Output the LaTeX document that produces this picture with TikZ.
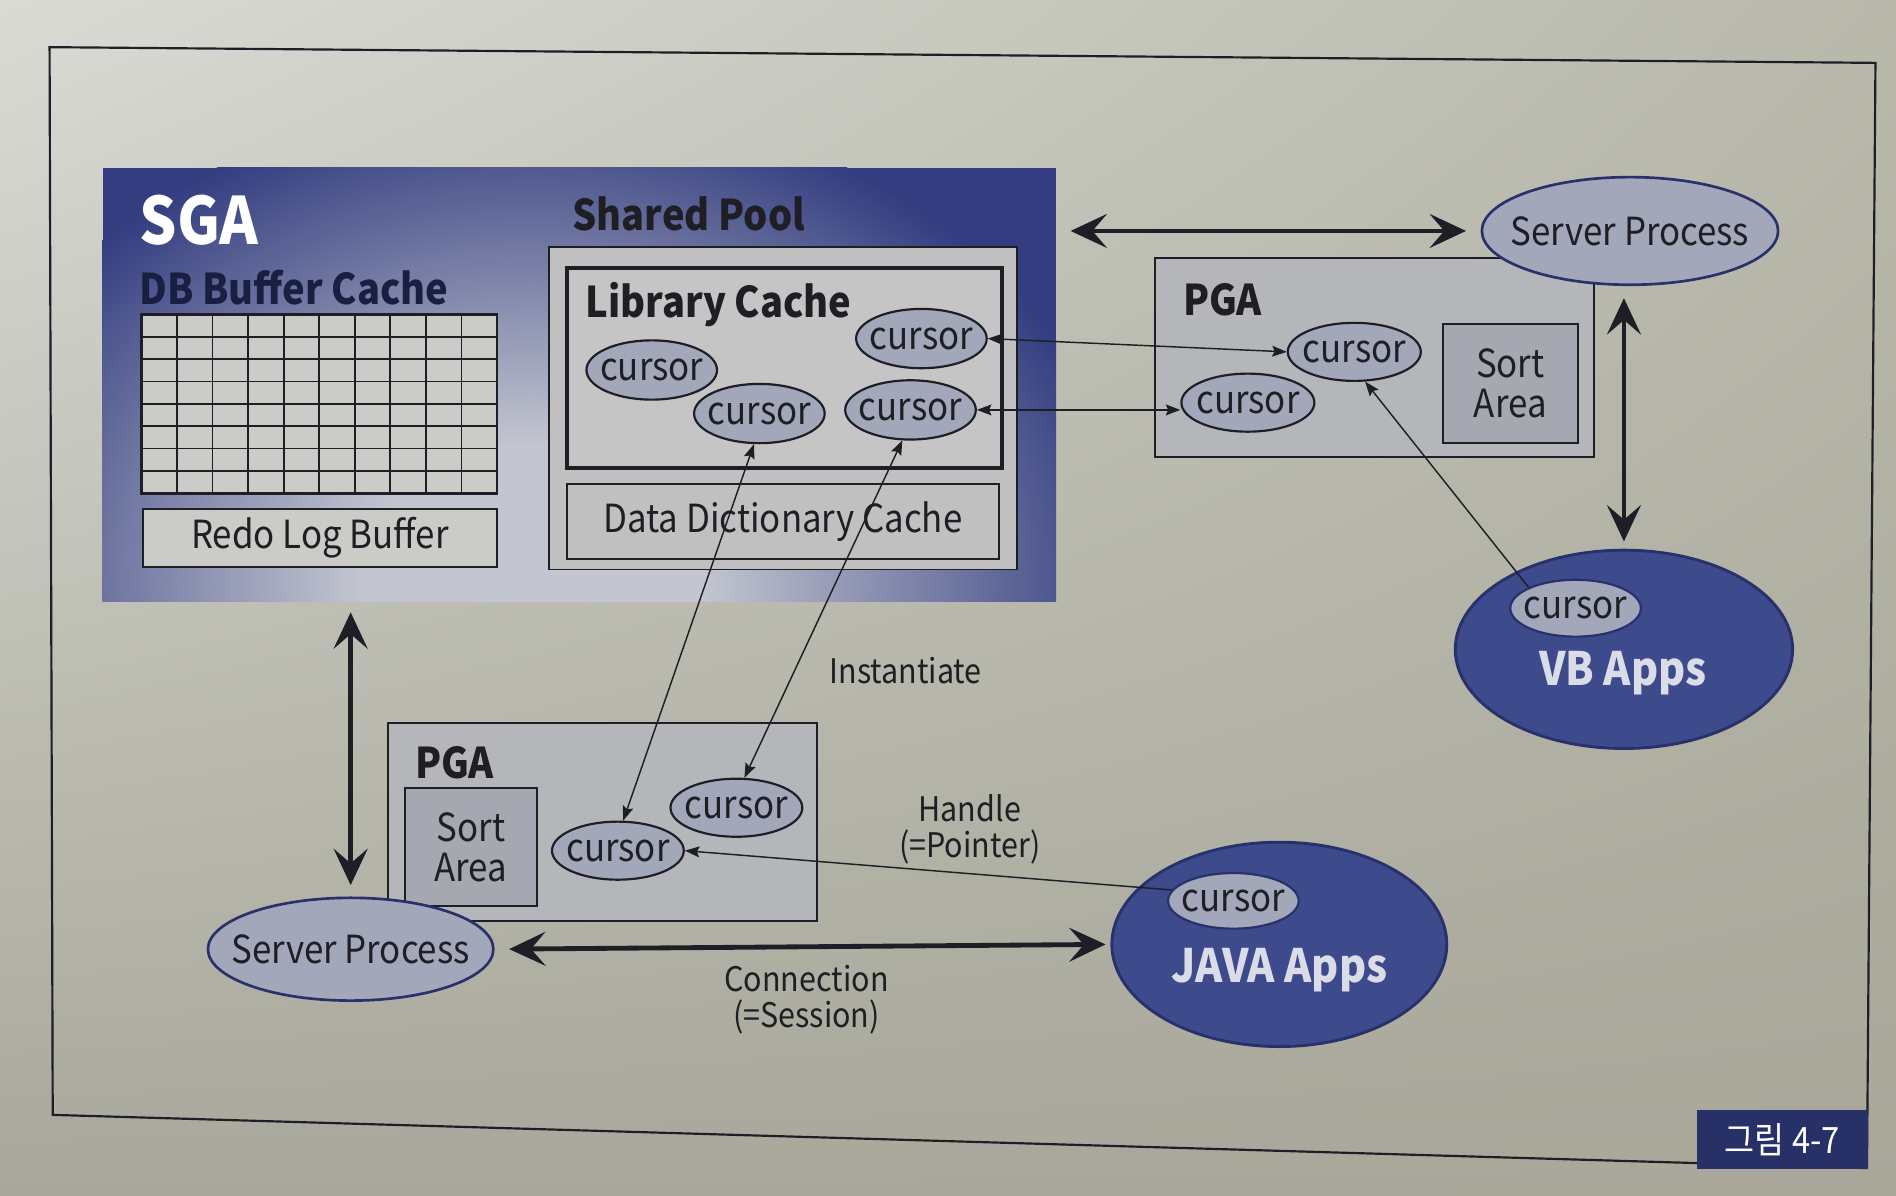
\documentclass[tikz,border=0pt]{standalone}
\usepackage{fontspec}
\setmainfont{Noto Sans CJK KR}[FakeStretch=0.9]
\usetikzlibrary{shapes.geometric,arrows.meta,fit,shadings}
\definecolor{bgUL}{HTML}{D9DCD5}
\definecolor{bgUR}{HTML}{B8B8AB}
\definecolor{bgLL}{HTML}{A9A79B}
\definecolor{bgLR}{HTML}{A8A79A}
\definecolor{linec}{HTML}{1E1F26}
\definecolor{txtc}{HTML}{1E1E24}
\definecolor{sgadark}{HTML}{333D80}
\definecolor{sgalight}{HTML}{C3C6D0}
\definecolor{poolfill}{HTML}{BFC0BF}
\definecolor{libfill}{HTML}{C4C5C4}
\definecolor{gridfill}{HTML}{CBCBC7}
\definecolor{pgafill}{HTML}{B4B6BA}
\definecolor{sortfill}{HTML}{A5A8B1}
\definecolor{curfill}{HTML}{A3A7BA}
\definecolor{appfill}{HTML}{3D4A8C}
\definecolor{appline}{HTML}{28316C}
\definecolor{apptext}{HTML}{DADDE8}
\definecolor{lblblue}{HTML}{283068}
\newcommand{\myfs}[1]{\fontsize{#1pt}{#1pt}\selectfont}
\newcommand{\zw}[1]{\makebox[0pt]{#1}}
\pgfdeclareradialshading{sgash}{\pgfpointorigin}{color(0bp)=(sgalight); color(7bp)=(sgalight); color(25bp)=(sgadark); color(50bp)=(sgadark)}
\begin{document}
\begin{tikzpicture}[x=0.5pt,y=-0.5pt,
  box/.style={rectangle, draw=linec, line width=0.8pt, inner sep=0pt},
  cur/.style={ellipse, draw=linec, line width=0.9pt, fill=curfill, inner sep=0pt,
    minimum width=54pt, minimum height=24.5pt, text=txtc, font=\myfs{16}},
  proc/.style={ellipse, draw=appline, line width=1.1pt, fill=curfill, inner sep=0pt,
    text=txtc, font=\myfs{16}},
  app/.style={ellipse, draw=appline, line width=1.2pt, fill=appfill, inner sep=0pt},
  lbl/.style={inner sep=0pt, text=txtc, font=\myfs{16}},
  blbl/.style={inner sep=0pt, text=txtc, font=\myfs{17.5}\bfseries, anchor=west},
  elbl/.style={inner sep=0pt, text=txtc, font=\myfs{14}, align=center},
  bigarrow/.style={draw=linec, line width=2pt,
    {Stealth[length=15pt,width=14pt,inset=6pt]}-{Stealth[length=15pt,width=14pt,inset=6pt]}},
  thin/.style={draw=linec, line width=0.6pt}
]
\useasboundingbox (0,0) rectangle (1568,989);
% background
\shade[upper left=bgUL, upper right=bgUR, lower left=bgLL, lower right=bgLR] (0,0) rectangle (1568,989);
% outer frame
\draw[linec, line width=0.9pt] (41,39) -- (1551,52) -- (1544,966) -- (43.6,922) -- cycle;

% ---------- SGA ----------
\node[rectangle, inner sep=0pt, fill=sgadark, fit={(85,139) (873,497)}] (sga) {};
\begin{scope}
  \clip (sga.north west) rectangle (sga.south east);
  \shade[shading=sgash] (440,480) ellipse [x radius=250pt, y radius=200pt];
\end{scope}
\node[inner sep=0pt, anchor=west, text=white, font=\myfs{27}\bfseries] (sgat) at (115,182) {SGA};
\node[blbl, text=sgadark!50!black] (dbbct) at (115,238) {DB Buffer Cache};

% DB buffer grid
\node[box, fill=gridfill, line width=1pt, fit={(117,260) (411,408)}] (dbgrid) {};
\foreach \i in {1,...,9} \draw[linec, line width=0.7pt] ({117+\i*29.4},260) -- ({117+\i*29.4},408);
\foreach \j in {1,...,7} \draw[linec, line width=0.7pt] (117,{260+\j*18.5}) -- (411,{260+\j*18.5});

\node[box, fill=gridfill, fit={(118,421) (411,469)}] (redo) {};
\node[lbl] at (redo.center) {Redo Log Buffer};

% Shared pool
\node[blbl] (spt) at (473,177) {Shared Pool};
\node[box, fill=poolfill, fit={(454,204) (841,471)}] (pool) {};
\node[box, fill=libfill, line width=1.7pt, fit={(469,222) (829,387)}] (lib) {};
\node[blbl] (libt) at (484,252) {Library Cache};
\node[box, fill=poolfill, fit={(469,400) (826,462)}] (dd) {};
\node[lbl] at (dd.center) {Data Dictionary Cache};

\node[cur] (lc1) at (539,306) {\zw{cursor}};
\node[cur] (lc2) at (628,342) {\zw{cursor}};
\node[cur] (lc3) at (762,280) {\zw{cursor}};
\node[cur] (lc4) at (753,339) {\zw{cursor}};

% ---------- top right ----------
\node[box, fill=pgafill, fit={(955,213) (1318,378)}] (pga1) {};
\node[blbl] (pga1t) at (978,248) {PGA};
\node[box, fill=sortfill, fit={(1193,268) (1305,366)}] (sort1) {};
\node[lbl, align=center] at (sort1.center) {Sort\\[0.5pt]Area};
\node[cur, minimum width=55pt, minimum height=24pt] (pc1) at (1120,291) {\zw{cursor}};
\node[cur, minimum width=55pt, minimum height=24pt] (pc2) at (1032,333) {\zw{cursor}};
\node[proc, minimum width=122.5pt, minimum height=44.5pt] (sp1) at (1348,191) {\zw{Server Process}};

\node[app, minimum width=139.5pt, minimum height=82pt] (vb) at (1343,537) {};
\node[cur, draw=appline, minimum width=54pt, minimum height=23.5pt] (vbc) at (1303,503) {\zw{cursor}};
\node[inner sep=0pt, text=apptext, font=\myfs{19}\bfseries] (vbt) at (1342,557) {VB Apps};

% ---------- bottom ----------
\node[box, fill=pgafill, fit={(321,598) (676,762)}] (pga2) {};
\node[blbl] (pga2t) at (343,631) {PGA};
\node[box, fill=sortfill, fit={(335,652) (444,749)}] (sort2) {};
\node[lbl, align=center] at (sort2.center) {Sort\\[0.5pt]Area};
\node[cur, minimum width=54.5pt, minimum height=24pt] (bc1) at (609,668) {\zw{cursor}};
\node[cur, minimum width=54.5pt, minimum height=24pt] (bc2) at (511,703.5) {\zw{cursor}};
\node[proc, minimum width=118pt, minimum height=42.5pt] (sp2) at (290,785) {\zw{Server Process}};

\node[app, minimum width=138.5pt, minimum height=84.5pt] (java) at (1058,781) {};
\node[cur, draw=appline, minimum width=54pt, minimum height=23pt] (jc) at (1020,745) {\zw{cursor}};
\node[inner sep=0pt, text=apptext, font=\myfs{19}\bfseries] (javat) at (1058,802) {JAVA Apps};

% ---------- connectors ----------
\draw[bigarrow, shorten <=6pt, shorten >=6pt] (sga.east |- sp1.west) -- (sp1.west);
\draw[bigarrow, shorten <=5pt, shorten >=3pt] (sp1.south -| vb.north) -- (vb.north);
\draw[bigarrow, shorten <=4.5pt, shorten >=4.7pt] (sp2.north |- sga.south) -- (sp2.north);
\draw[bigarrow, shorten <=6pt, shorten >=2pt] (sp2.east) -- (java.west);

\draw[thin, {Stealth[length=6pt,width=4.5pt,inset=1pt]}-{Stealth[length=6pt,width=4.5pt,inset=1pt]}] (lc3.east) -- (pc1.west);
\draw[thin, {Stealth[length=6pt,width=4.5pt,inset=1pt]}-{Stealth[length=6pt,width=4.5pt,inset=1pt]}] (lc4.east) -- (pc2.west |- lc4.east);
\draw[thin, -{Stealth[length=6pt,width=4.5pt,inset=1pt]}] (vbc.north west) -- (pc1.-70);
\draw[thin, {Stealth[length=6pt,width=4.5pt,inset=1pt]}-{Stealth[length=6pt,width=4.5pt,inset=1pt]}] (lc2.-100) -- (bc2.80);
\draw[thin, {Stealth[length=6pt,width=4.5pt,inset=1pt]}-{Stealth[length=6pt,width=4.5pt,inset=1pt]}] (lc4.-105) -- (bc1.75);
\draw[thin, -{Stealth[length=6pt,width=4.5pt,inset=1pt]}] (jc.170) -- (bc2.east);

% edge labels
\node[elbl] (inst) at (749,555) {Instantiate};
\node[elbl] (hand) at (802,686) {Handle\\[1pt](=Pointer)};
\node[elbl] (conn) at (667,827) {Connection\\[1pt](=Session)};

% figure label
\node[rectangle, inner sep=0pt, fill=lblblue, fit={(1403,918) (1545,967)}] (figlbl) {};
\node[inner sep=0pt, text=white, font=\myfs{15}] at (figlbl.center) {그림 4-7};
\end{tikzpicture}
\end{document}
